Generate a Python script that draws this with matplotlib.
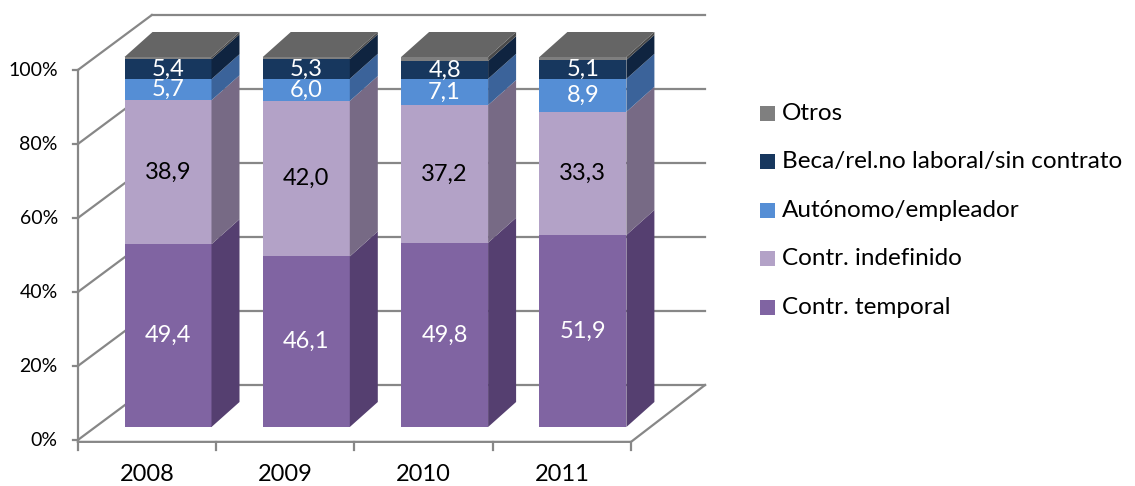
import numpy as np
import matplotlib
matplotlib.use("Agg")
import matplotlib.pyplot as plt
from matplotlib.patches import Polygon, Rectangle

# ### DATA
years = ["2008", "2009", "2010", "2011"]
temporal = [49.4, 46.1, 49.8, 51.9]
indefinido = [38.9, 42.0, 37.2, 33.3]
autonomo = [5.7, 6.0, 7.1, 8.9]
beca = [5.4, 5.3, 4.8, 5.1]
otros = [0.6, 0.6, 1.1, 0.8]

series = [temporal, indefinido, autonomo, beca, otros]
names = ["Contr. temporal", "Contr. indefinido", "Autónomo/empleador",
         "Beca/rel.no laboral/sin contrato", "Otros"]
front_col = ["#8064A2", "#B3A2C7", "#558ED5", "#17375E", "#7F7F7F"]
side_col = ["#553F70", "#776A85", "#3B639A", "#0F2440", "#4A4A4A"]
label_col = ["white", "black", "white", "white", None]
yticks = [0, 20, 40, 60, 80, 100]

plt.rcParams['font.family'] = ['Lato', 'DejaVu Sans']

fig = plt.figure(figsize=(11.35, 4.86), dpi=100)
ax = fig.add_axes([0, 0, 1, 1])
# pixel mapping: category 0 centre at px 147, 138.3 px per category, 3.7 px per %
sx, sy = 138.3, 3.7
ax.set_xlim(-147 / sx, (1135 - 147) / sx)
ax.set_ylim((440 - 486) / sy, 440 / sy)
ax.axis("off")

n = len(years)
grid = "#878787"
wdx, wdy = 74 / sx, 55 / sy          # depth of the wall/floor
x0, x1 = -0.5, n - 0.5

# side wall and back wall gridlines
for t in yticks:
    ax.plot([x0, x0 + wdx], [t, t + wdy], color=grid, lw=1.6, zorder=1)
    ax.plot([x0 + wdx, x1 + wdx], [t + wdy, t + wdy], color=grid, lw=1.6, zorder=1)
    ax.plot([x0 - 5 / sx, x0], [t, t], color=grid, lw=1.6, zorder=1)
    ax.text(x0 - 20 / sx, t, f"{t}%", ha="right", va="center", fontsize=14)

# front axis and floor
ax.plot([x0, x0], [0, 100], color=grid, lw=1.6, zorder=1)
ax.plot([x0, x1, x1 + wdx], [-0.5, -0.5, wdy], color=grid, lw=1.6, zorder=1)
for i in range(n + 1):
    ax.plot([x0 + i, x0 + i], [-0.5, -0.5 - 8 / sy], color=grid, lw=1.6, zorder=1)
for i, y in enumerate(years):
    ax.text(i, -9.2, y, ha="center", va="center", fontsize=17)

# 3D bars
bdx, bdy = 21 / sx, 13 / sy          # bar front offset
ddx, ddy = 28 / sx, 25 / sy          # bar depth
bw = 87 / sx
for i in range(n):
    xl = i + bdx - bw / 2
    xr = xl + bw
    base = 0
    for k, s in enumerate(series):
        v = s[i]
        y0, y1 = base + bdy, base + v + bdy
        ax.add_patch(Rectangle((xl, y0), bw, v, facecolor=front_col[k],
                               edgecolor="none", zorder=3))
        ax.add_patch(Polygon([(xr, y0), (xr + ddx, y0 + ddy), (xr + ddx, y1 + ddy), (xr, y1)],
                             closed=True, facecolor=side_col[k], edgecolor="none", zorder=3))
        if label_col[k]:
            ax.text(xl + bw / 2, (y0 + y1) / 2, f"{v:.1f}".replace(".", ","),
                    ha="center", va="center", fontsize=17, color=label_col[k], zorder=4)
        base += v
    top = base + bdy
    ax.add_patch(Polygon([(xl, top), (xr, top), (xr + ddx, top + ddy), (xl + ddx, top + ddy)],
                         closed=True, facecolor="#656565", edgecolor="none", zorder=3))

# legend
for j, k in enumerate(range(len(names) - 1, -1, -1)):
    ly = (440 - (113 + j * 48.5)) / sy
    lx = (760 - 147) / sx
    ax.add_patch(Rectangle((lx, ly - 7.5 / sy), 15 / sx, 15 / sy,
                           facecolor=front_col[k], edgecolor="none"))
    ax.text((782 - 147) / sx, ly, names[k], ha="left", va="center", fontsize=17.5)

fig.savefig("out.png", dpi=100)
